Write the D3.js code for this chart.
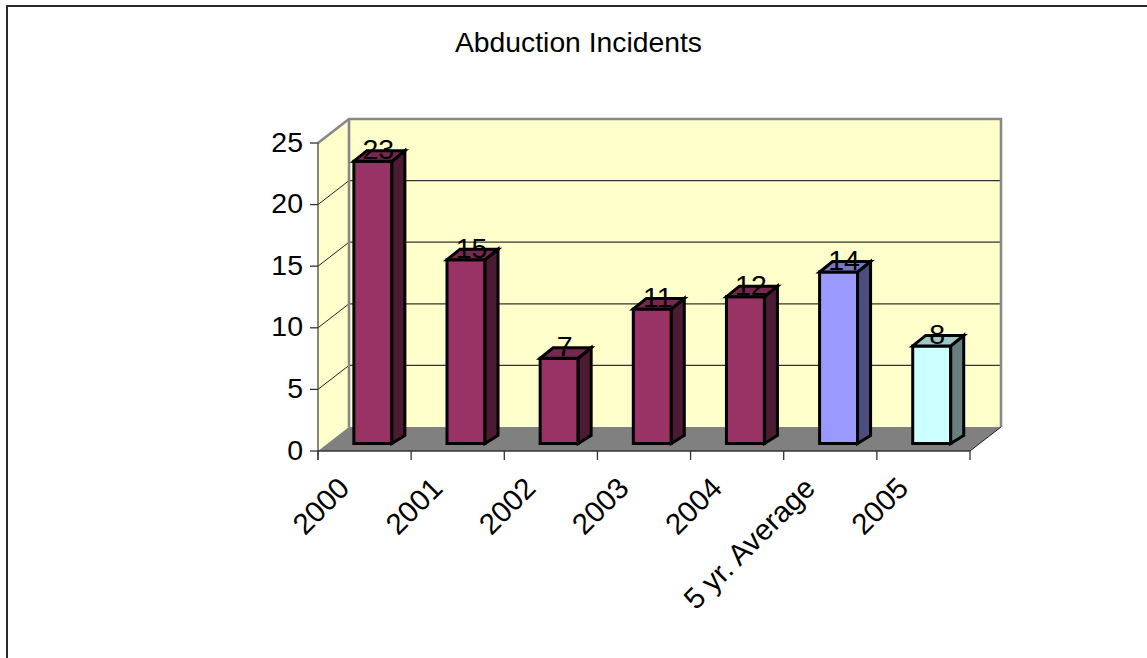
<!DOCTYPE html>
<html><head><meta charset="utf-8"><style>html,body{margin:0;background:#fff}svg{display:block}text{font-family:"Liberation Sans",Arial,sans-serif;fill:#000}</style>
<script src="https://cdn.jsdelivr.net/npm/d3@7"></script></head><body><script>
const categories=["2000","2001","2002","2003","2004","5 yr. Average","2005"];
const values=[23,15,7,11,12,14,8];
const faceColors=["#993366","#993366","#993366","#993366","#993366","#9999ff","#ccffff"];
const yTicks=[0,5,10,15,20,25];
const title="Abduction Incidents";
const W=1147,H=658;
const svg=d3.select("body").append("svg").attr("width",W).attr("height",H);
svg.append("path").attr("d",`M7,${H}V6H${W}`).attr("fill","none").attr("stroke","#2a2a2a").attr("stroke-width",2);
const x=d3.scaleBand().domain(categories).range([318,970]);
const yFront=d3.scaleLinear().domain([0,25]).range([451,143]);
const dx=31,dy=-24;
const poly=(pts,fill,stroke,sw)=>svg.append("polygon").attr("points",pts.map(p=>p.join(",")).join(" ")).attr("fill",fill).attr("stroke",stroke||"none").attr("stroke-width",sw||0).attr("stroke-linejoin","miter");
const line=(x1,y1,x2,y2,c,w)=>svg.append("line").attr("x1",x1).attr("y1",y1).attr("x2",x2).attr("y2",y2).attr("stroke",c).attr("stroke-width",w||1);
const x0=318,x1=970,yb=yFront(0),yt=yFront(25);
// walls and floor
poly([[x0+dx,yb+dy],[x1+dx,yb+dy],[x1+dx,yt+dy],[x0+dx,yt+dy]],"#ffffcc");
poly([[x0,yb],[x0+dx,yb+dy],[x0+dx,yt+dy],[x0,yt]],"#ffffcc");
poly([[x0,yb],[x1,yb],[x1+dx,yb+dy],[x0+dx,yb+dy]],"#808080");
// gridlines
yTicks.filter(v=>v>0&&v<25).forEach(v=>{
  line(x0+dx,yFront(v)+dy,x1+dx,yFront(v)+dy,"#333",1.2);
  line(x0,yFront(v),x0+dx,yFront(v)+dy,"#222",1);
});
// wall edges
svg.append("path").attr("d",`M${x0},${yt}L${x0+dx},${yt+dy}L${x1+dx},${yt+dy}L${x1+dx},${yb+dy}`).attr("fill","none").attr("stroke","#888").attr("stroke-width",2.6);
line(x0+dx,yt+dy,x0+dx,yb+dy,"#888",2.6);
// axes
line(x0,yt,x0,yb+9,"#444",1.3);
line(x0,yb,x1,yb,"#333",1.3);
line(x1,yb,x1+dx,yb+dy,"#222",1);
yTicks.forEach(v=>{
  line(x0-8,yFront(v),x0,yFront(v),"#333",1.3);
  svg.append("text").attr("x",x0-15).attr("y",yFront(v)+8.5).attr("text-anchor","end").attr("font-size",28.5).text(v);
});
[...categories.map(c=>x(c)),x1].forEach(t=>line(t,yb,t,yb+9,"#333",1.3));
// bars
const bw=38,depthX=13,depthY=-10.5,base=443.5,shift=8.3;
const barH=v=>yFront(0)-yFront(v)-1;
categories.forEach((c,i)=>{
  const cx=x(c)+x.bandwidth()/2+shift,l=cx-bw/2,r=cx+bw/2,t=base-barH(values[i]);
  const col=d3.color(faceColors[i]);
  const mix=k=>d3.rgb(col.r*k,col.g*k,col.b*k).formatHex();
  poly([[l,base],[r,base],[r,t],[l,t]],faceColors[i],"#000",3);
  poly([[r,base],[r+depthX,base-8],[r+depthX,t+depthY],[r,t]],mix(.5),"#000",3);
  poly([[l,t],[r,t],[r+depthX,t+depthY],[l+depthX,t+depthY]],mix(.78),"#000",3);
});
categories.forEach((c,i)=>{
  const cx=x(c)+x.bandwidth()/2+shift,t=base-barH(values[i]);
  svg.append("text").attr("x",cx+5.5).attr("y",t-2).attr("text-anchor","middle").attr("font-size",28.5).text(values[i]);
  const tx=x(c)+x.bandwidth()-60,ty=yb+39;
  svg.append("text").attr("transform",`translate(${tx},${ty}) rotate(-45)`).attr("text-anchor","end").attr("font-size",29.4).text(c);
});
svg.append("text").attr("x",578.5).attr("y",52).attr("text-anchor","middle").attr("font-size",28.3).text(title);
</script></body></html>
